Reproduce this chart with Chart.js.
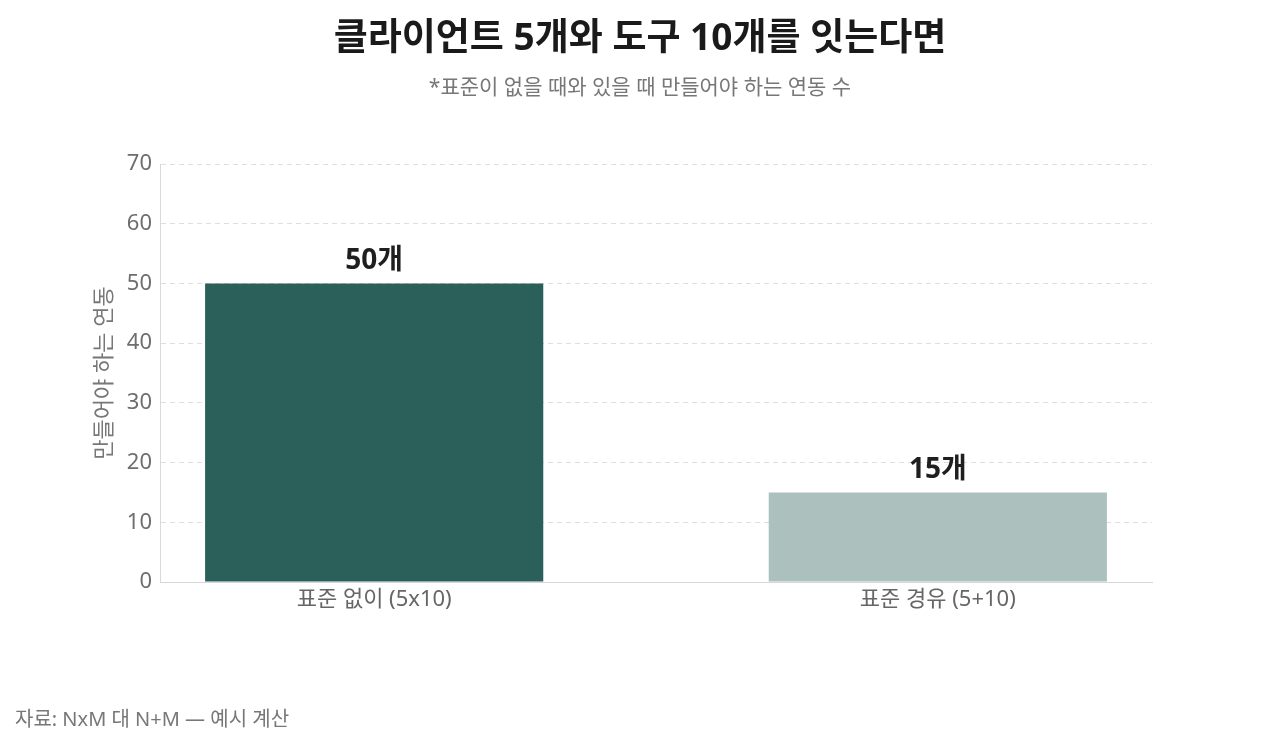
<!DOCTYPE html>
<html lang="ko">
<head>
<meta charset="utf-8">
<script src="https://cdn.jsdelivr.net/npm/chart.js@4.4.1/dist/chart.umd.min.js"></script>
<style>
  html, body { margin: 0; padding: 0; background: #ffffff; }
  #wrap { position: relative; width: 1280px; height: 747px; }
  canvas { display: block; }
</style>
</head>
<body>
<div id="wrap"><canvas id="c" width="1280" height="747"></canvas></div>
<script>
const categories = ['표준 없이 (5x10)', '표준 경유 (5+10)'];
const positions = [0, 1];
const values = [50, 15];
const barColors = ['#2a5f5a', '#acc1be'];
const valueSuffix = '개';
const titleText = '클라이언트 5개와 도구 10개를 잇는다면';
const subtitleText = '*표준이 없을 때와 있을 때 만들어야 하는 연동 수';
const yAxisTitle = '만들어야 하는 연동';
const footerText = '자료: NxM 대 N+M — 예시 계산';
const yMax = 70;
const yStep = 10;
const xMin = -0.38;
const xMax = 1.38;

const FONT = '"Noto Sans", "Noto Sans CJK KR", sans-serif';

const textPlugin = {
  id: 'texts',
  afterDraw(chart) {
    const ctx = chart.ctx;
    ctx.save();
    ctx.textAlign = 'center';
    ctx.textBaseline = 'middle';
    ctx.fillStyle = '#1a1a1a';
    ctx.font = 'bold 37px ' + FONT;
    ctx.fillText(titleText, 640, 39);
    ctx.fillStyle = '#777777';
    ctx.font = '21px ' + FONT;
    ctx.fillText(subtitleText, 640, 88);
    ctx.textAlign = 'left';
    ctx.fillStyle = '#777777';
    ctx.font = '20px ' + FONT;
    ctx.fillText(footerText, 15, 720);
    ctx.restore();
  }
};

const labelPlugin = {
  id: 'barLabels',
  afterDatasetsDraw(chart) {
    const ctx = chart.ctx;
    const meta = chart.getDatasetMeta(0);
    ctx.save();
    ctx.textAlign = 'center';
    ctx.textBaseline = 'alphabetic';
    ctx.fillStyle = '#1f1f1f';
    ctx.font = 'bold 28px ' + FONT;
    meta.data.forEach((bar, i) => {
      ctx.fillText(values[i] + valueSuffix, bar.x, bar.y - 14);
    });
    ctx.restore();
  }
};

new Chart(document.getElementById('c'), {
  type: 'bar',
  data: {
    datasets: [{
      data: values.map((v, i) => ({ x: positions[i], y: v })),
      backgroundColor: barColors,
      borderWidth: 0,
      categoryPercentage: 1,
      barPercentage: 0.6
    }]
  },
  options: {
    responsive: false,
    animation: false,
    layout: { padding: { top: 164, right: 128, left: 92, bottom: 0 } },
    plugins: {
      legend: { display: false },
      tooltip: { enabled: false }
    },
    scales: {
      x: {
        type: 'linear',
        min: xMin,
        max: xMax,
        offset: false,
        grid: { display: false, drawTicks: false },
        border: { display: true, color: '#d6d6d6', width: 1 },
        afterBuildTicks(scale) { scale.ticks = positions.map(p => ({ value: p })); },
        ticks: {
          autoSkip: false,
          maxRotation: 0,
          color: '#666666',
          font: { family: FONT, size: 22 },
          padding: 5,
          callback: (v) => categories[positions.indexOf(v)] ?? ''
        },
        afterFit(scale) { scale.height = 165; }
      },
      y: {
        min: 0,
        max: yMax,
        ticks: { stepSize: yStep, color: '#6e6e6e', font: { family: FONT, size: 22 }, padding: 8 },
        grid: { color: '#dedede', lineWidth: 1, drawTicks: false },
        border: { display: true, color: '#d9d9d9', dash: [5, 4], width: 1 },
        title: { display: true, text: yAxisTitle, color: '#777777', font: { family: FONT, size: 22 }, padding: { top: 0, bottom: 0 } },
        afterFit(scale) { scale.width = 68; }
      }
    }
  },
  plugins: [textPlugin, labelPlugin]
});
</script>
</body>
</html>
